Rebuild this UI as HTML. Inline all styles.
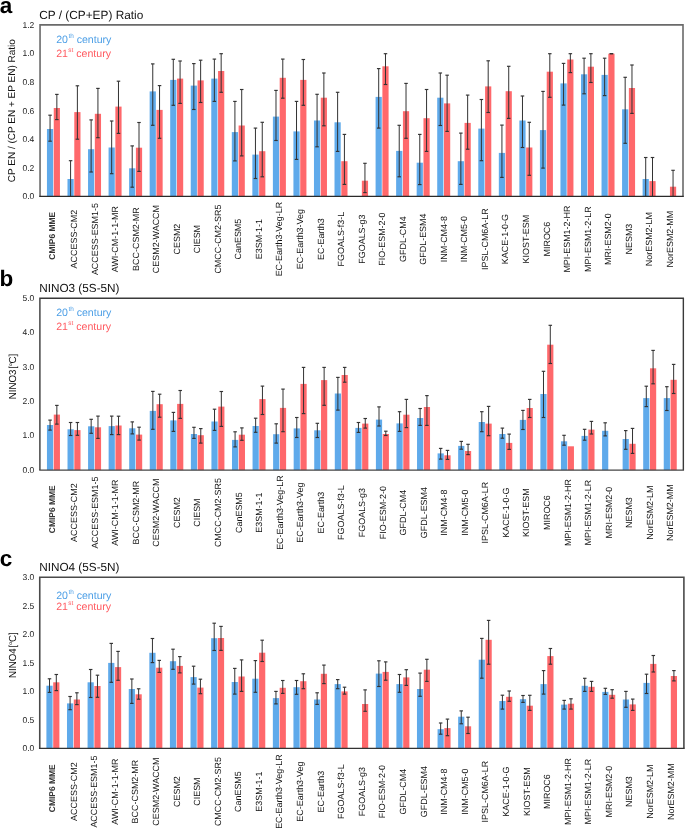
<!DOCTYPE html>
<html><head><meta charset="utf-8"><style>
html,body{margin:0;padding:0;background:#fff;}
body{width:685px;height:829px;overflow:hidden;}
svg{display:block;font-family:"Liberation Sans", sans-serif;will-change:transform;text-rendering:geometricPrecision;}
</style></head><body>
<svg width="685" height="829" viewBox="0 0 685 829">
<rect x="46.95" y="129.00" width="6.2" height="67.40" fill="#5faaeb"/>
<rect x="53.75" y="108.00" width="6.2" height="88.40" fill="#ff686b"/>
<rect x="67.49" y="179.00" width="6.2" height="17.40" fill="#5faaeb"/>
<rect x="74.29" y="112.10" width="6.2" height="84.30" fill="#ff686b"/>
<rect x="88.03" y="149.20" width="6.2" height="47.20" fill="#5faaeb"/>
<rect x="94.83" y="113.80" width="6.2" height="82.60" fill="#ff686b"/>
<rect x="108.57" y="147.50" width="6.2" height="48.90" fill="#5faaeb"/>
<rect x="115.37" y="106.60" width="6.2" height="89.80" fill="#ff686b"/>
<rect x="129.11" y="168.30" width="6.2" height="28.10" fill="#5faaeb"/>
<rect x="135.91" y="147.70" width="6.2" height="48.70" fill="#ff686b"/>
<rect x="149.65" y="91.40" width="6.2" height="105.00" fill="#5faaeb"/>
<rect x="156.45" y="109.90" width="6.2" height="86.50" fill="#ff686b"/>
<rect x="170.19" y="79.90" width="6.2" height="116.50" fill="#5faaeb"/>
<rect x="176.99" y="78.60" width="6.2" height="117.80" fill="#ff686b"/>
<rect x="190.73" y="85.60" width="6.2" height="110.80" fill="#5faaeb"/>
<rect x="197.53" y="80.40" width="6.2" height="116.00" fill="#ff686b"/>
<rect x="211.27" y="78.60" width="6.2" height="117.80" fill="#5faaeb"/>
<rect x="218.07" y="71.00" width="6.2" height="125.40" fill="#ff686b"/>
<rect x="231.81" y="132.10" width="6.2" height="64.30" fill="#5faaeb"/>
<rect x="238.61" y="125.50" width="6.2" height="70.90" fill="#ff686b"/>
<rect x="252.35" y="154.60" width="6.2" height="41.80" fill="#5faaeb"/>
<rect x="259.15" y="151.20" width="6.2" height="45.20" fill="#ff686b"/>
<rect x="272.89" y="116.60" width="6.2" height="79.80" fill="#5faaeb"/>
<rect x="279.69" y="77.80" width="6.2" height="118.60" fill="#ff686b"/>
<rect x="293.43" y="131.40" width="6.2" height="65.00" fill="#5faaeb"/>
<rect x="300.23" y="79.90" width="6.2" height="116.50" fill="#ff686b"/>
<rect x="313.97" y="120.50" width="6.2" height="75.90" fill="#5faaeb"/>
<rect x="320.77" y="97.70" width="6.2" height="98.70" fill="#ff686b"/>
<rect x="334.51" y="122.30" width="6.2" height="74.10" fill="#5faaeb"/>
<rect x="341.31" y="161.20" width="6.2" height="35.20" fill="#ff686b"/>
<rect x="361.85" y="180.70" width="6.2" height="15.70" fill="#ff686b"/>
<rect x="375.59" y="96.90" width="6.2" height="99.50" fill="#5faaeb"/>
<rect x="382.39" y="66.30" width="6.2" height="130.10" fill="#ff686b"/>
<rect x="396.13" y="150.90" width="6.2" height="45.50" fill="#5faaeb"/>
<rect x="402.93" y="111.20" width="6.2" height="85.20" fill="#ff686b"/>
<rect x="416.67" y="162.70" width="6.2" height="33.70" fill="#5faaeb"/>
<rect x="423.47" y="118.20" width="6.2" height="78.20" fill="#ff686b"/>
<rect x="437.21" y="97.70" width="6.2" height="98.70" fill="#5faaeb"/>
<rect x="444.01" y="103.40" width="6.2" height="93.00" fill="#ff686b"/>
<rect x="457.75" y="161.20" width="6.2" height="35.20" fill="#5faaeb"/>
<rect x="464.55" y="122.90" width="6.2" height="73.50" fill="#ff686b"/>
<rect x="478.29" y="128.60" width="6.2" height="67.80" fill="#5faaeb"/>
<rect x="485.09" y="86.40" width="6.2" height="110.00" fill="#ff686b"/>
<rect x="498.83" y="152.90" width="6.2" height="43.50" fill="#5faaeb"/>
<rect x="505.63" y="91.20" width="6.2" height="105.20" fill="#ff686b"/>
<rect x="519.37" y="120.50" width="6.2" height="75.90" fill="#5faaeb"/>
<rect x="526.17" y="147.50" width="6.2" height="48.90" fill="#ff686b"/>
<rect x="539.91" y="130.10" width="6.2" height="66.30" fill="#5faaeb"/>
<rect x="546.71" y="71.70" width="6.2" height="124.70" fill="#ff686b"/>
<rect x="560.45" y="83.40" width="6.2" height="113.00" fill="#5faaeb"/>
<rect x="567.25" y="59.50" width="6.2" height="136.90" fill="#ff686b"/>
<rect x="580.99" y="74.30" width="6.2" height="122.10" fill="#5faaeb"/>
<rect x="587.79" y="66.70" width="6.2" height="129.70" fill="#ff686b"/>
<rect x="601.53" y="74.90" width="6.2" height="121.50" fill="#5faaeb"/>
<rect x="608.33" y="53.70" width="6.2" height="142.70" fill="#ff686b"/>
<rect x="622.07" y="109.30" width="6.2" height="87.10" fill="#5faaeb"/>
<rect x="628.87" y="88.00" width="6.2" height="108.40" fill="#ff686b"/>
<rect x="642.61" y="179.00" width="6.2" height="17.40" fill="#5faaeb"/>
<rect x="649.41" y="181.10" width="6.2" height="15.30" fill="#ff686b"/>
<rect x="669.95" y="186.70" width="6.2" height="9.70" fill="#ff686b"/>
<line x1="50.05" y1="115.20" x2="50.05" y2="141.20" stroke="#333" stroke-width="1"/>
<rect x="48.30" y="114.62" width="3.5" height="1.15" fill="#333"/>
<rect x="48.30" y="140.62" width="3.5" height="1.15" fill="#333"/>
<line x1="56.85" y1="94.40" x2="56.85" y2="119.60" stroke="#333" stroke-width="1"/>
<rect x="55.10" y="93.83" width="3.5" height="1.15" fill="#333"/>
<rect x="55.10" y="119.02" width="3.5" height="1.15" fill="#333"/>
<line x1="70.59" y1="160.70" x2="70.59" y2="196.40" stroke="#333" stroke-width="1"/>
<rect x="68.84" y="160.12" width="3.5" height="1.15" fill="#333"/>
<line x1="77.39" y1="85.80" x2="77.39" y2="139.20" stroke="#333" stroke-width="1"/>
<rect x="75.64" y="85.22" width="3.5" height="1.15" fill="#333"/>
<rect x="75.64" y="138.62" width="3.5" height="1.15" fill="#333"/>
<line x1="91.13" y1="119.90" x2="91.13" y2="172.00" stroke="#333" stroke-width="1"/>
<rect x="89.38" y="119.33" width="3.5" height="1.15" fill="#333"/>
<rect x="89.38" y="171.43" width="3.5" height="1.15" fill="#333"/>
<line x1="97.93" y1="88.40" x2="97.93" y2="137.70" stroke="#333" stroke-width="1"/>
<rect x="96.18" y="87.83" width="3.5" height="1.15" fill="#333"/>
<rect x="96.18" y="137.12" width="3.5" height="1.15" fill="#333"/>
<line x1="111.67" y1="121.00" x2="111.67" y2="173.70" stroke="#333" stroke-width="1"/>
<rect x="109.92" y="120.42" width="3.5" height="1.15" fill="#333"/>
<rect x="109.92" y="173.12" width="3.5" height="1.15" fill="#333"/>
<line x1="118.47" y1="81.20" x2="118.47" y2="133.40" stroke="#333" stroke-width="1"/>
<rect x="116.72" y="80.62" width="3.5" height="1.15" fill="#333"/>
<rect x="116.72" y="132.83" width="3.5" height="1.15" fill="#333"/>
<line x1="132.21" y1="145.90" x2="132.21" y2="187.20" stroke="#333" stroke-width="1"/>
<rect x="130.46" y="145.33" width="3.5" height="1.15" fill="#333"/>
<rect x="130.46" y="186.62" width="3.5" height="1.15" fill="#333"/>
<line x1="139.01" y1="122.50" x2="139.01" y2="171.40" stroke="#333" stroke-width="1"/>
<rect x="137.26" y="121.92" width="3.5" height="1.15" fill="#333"/>
<rect x="137.26" y="170.83" width="3.5" height="1.15" fill="#333"/>
<line x1="152.75" y1="63.90" x2="152.75" y2="125.30" stroke="#333" stroke-width="1"/>
<rect x="151.00" y="63.32" width="3.5" height="1.15" fill="#333"/>
<rect x="151.00" y="124.72" width="3.5" height="1.15" fill="#333"/>
<line x1="159.55" y1="85.60" x2="159.55" y2="138.30" stroke="#333" stroke-width="1"/>
<rect x="157.80" y="85.02" width="3.5" height="1.15" fill="#333"/>
<rect x="157.80" y="137.73" width="3.5" height="1.15" fill="#333"/>
<line x1="173.29" y1="59.30" x2="173.29" y2="105.30" stroke="#333" stroke-width="1"/>
<rect x="171.54" y="58.72" width="3.5" height="1.15" fill="#333"/>
<rect x="171.54" y="104.72" width="3.5" height="1.15" fill="#333"/>
<line x1="180.09" y1="61.00" x2="180.09" y2="103.40" stroke="#333" stroke-width="1"/>
<rect x="178.34" y="60.42" width="3.5" height="1.15" fill="#333"/>
<rect x="178.34" y="102.83" width="3.5" height="1.15" fill="#333"/>
<line x1="193.83" y1="63.60" x2="193.83" y2="109.50" stroke="#333" stroke-width="1"/>
<rect x="192.08" y="63.02" width="3.5" height="1.15" fill="#333"/>
<rect x="192.08" y="108.92" width="3.5" height="1.15" fill="#333"/>
<line x1="200.63" y1="60.20" x2="200.63" y2="102.50" stroke="#333" stroke-width="1"/>
<rect x="198.88" y="59.62" width="3.5" height="1.15" fill="#333"/>
<rect x="198.88" y="101.92" width="3.5" height="1.15" fill="#333"/>
<line x1="214.37" y1="59.10" x2="214.37" y2="101.40" stroke="#333" stroke-width="1"/>
<rect x="212.62" y="58.52" width="3.5" height="1.15" fill="#333"/>
<rect x="212.62" y="100.83" width="3.5" height="1.15" fill="#333"/>
<line x1="221.17" y1="53.70" x2="221.17" y2="92.30" stroke="#333" stroke-width="1"/>
<rect x="219.42" y="53.12" width="3.5" height="1.15" fill="#333"/>
<rect x="219.42" y="91.72" width="3.5" height="1.15" fill="#333"/>
<line x1="234.91" y1="101.40" x2="234.91" y2="160.90" stroke="#333" stroke-width="1"/>
<rect x="233.16" y="100.83" width="3.5" height="1.15" fill="#333"/>
<rect x="233.16" y="160.33" width="3.5" height="1.15" fill="#333"/>
<line x1="241.71" y1="89.50" x2="241.71" y2="155.90" stroke="#333" stroke-width="1"/>
<rect x="239.96" y="88.92" width="3.5" height="1.15" fill="#333"/>
<rect x="239.96" y="155.33" width="3.5" height="1.15" fill="#333"/>
<line x1="255.45" y1="128.10" x2="255.45" y2="178.50" stroke="#333" stroke-width="1"/>
<rect x="253.70" y="127.52" width="3.5" height="1.15" fill="#333"/>
<rect x="253.70" y="177.93" width="3.5" height="1.15" fill="#333"/>
<line x1="262.25" y1="122.30" x2="262.25" y2="176.80" stroke="#333" stroke-width="1"/>
<rect x="260.50" y="121.72" width="3.5" height="1.15" fill="#333"/>
<rect x="260.50" y="176.23" width="3.5" height="1.15" fill="#333"/>
<line x1="275.99" y1="90.40" x2="275.99" y2="140.50" stroke="#333" stroke-width="1"/>
<rect x="274.24" y="89.83" width="3.5" height="1.15" fill="#333"/>
<rect x="274.24" y="139.93" width="3.5" height="1.15" fill="#333"/>
<line x1="282.79" y1="59.10" x2="282.79" y2="98.20" stroke="#333" stroke-width="1"/>
<rect x="281.04" y="58.52" width="3.5" height="1.15" fill="#333"/>
<rect x="281.04" y="97.62" width="3.5" height="1.15" fill="#333"/>
<line x1="296.53" y1="101.40" x2="296.53" y2="159.40" stroke="#333" stroke-width="1"/>
<rect x="294.78" y="100.83" width="3.5" height="1.15" fill="#333"/>
<rect x="294.78" y="158.83" width="3.5" height="1.15" fill="#333"/>
<line x1="303.33" y1="59.50" x2="303.33" y2="105.30" stroke="#333" stroke-width="1"/>
<rect x="301.58" y="58.92" width="3.5" height="1.15" fill="#333"/>
<rect x="301.58" y="104.72" width="3.5" height="1.15" fill="#333"/>
<line x1="317.07" y1="94.30" x2="317.07" y2="146.80" stroke="#333" stroke-width="1"/>
<rect x="315.32" y="93.72" width="3.5" height="1.15" fill="#333"/>
<rect x="315.32" y="146.23" width="3.5" height="1.15" fill="#333"/>
<line x1="323.87" y1="73.00" x2="323.87" y2="125.80" stroke="#333" stroke-width="1"/>
<rect x="322.12" y="72.42" width="3.5" height="1.15" fill="#333"/>
<rect x="322.12" y="125.22" width="3.5" height="1.15" fill="#333"/>
<line x1="337.61" y1="92.30" x2="337.61" y2="151.40" stroke="#333" stroke-width="1"/>
<rect x="335.86" y="91.72" width="3.5" height="1.15" fill="#333"/>
<rect x="335.86" y="150.83" width="3.5" height="1.15" fill="#333"/>
<line x1="344.41" y1="134.40" x2="344.41" y2="184.40" stroke="#333" stroke-width="1"/>
<rect x="342.66" y="133.83" width="3.5" height="1.15" fill="#333"/>
<rect x="342.66" y="183.83" width="3.5" height="1.15" fill="#333"/>
<line x1="364.95" y1="163.30" x2="364.95" y2="192.60" stroke="#333" stroke-width="1"/>
<rect x="363.20" y="162.73" width="3.5" height="1.15" fill="#333"/>
<rect x="363.20" y="192.03" width="3.5" height="1.15" fill="#333"/>
<line x1="378.69" y1="68.60" x2="378.69" y2="128.10" stroke="#333" stroke-width="1"/>
<rect x="376.94" y="68.02" width="3.5" height="1.15" fill="#333"/>
<rect x="376.94" y="127.52" width="3.5" height="1.15" fill="#333"/>
<line x1="385.49" y1="53.70" x2="385.49" y2="84.50" stroke="#333" stroke-width="1"/>
<rect x="383.74" y="53.12" width="3.5" height="1.15" fill="#333"/>
<rect x="383.74" y="83.92" width="3.5" height="1.15" fill="#333"/>
<line x1="399.23" y1="125.30" x2="399.23" y2="176.80" stroke="#333" stroke-width="1"/>
<rect x="397.48" y="124.72" width="3.5" height="1.15" fill="#333"/>
<rect x="397.48" y="176.23" width="3.5" height="1.15" fill="#333"/>
<line x1="406.03" y1="83.40" x2="406.03" y2="138.30" stroke="#333" stroke-width="1"/>
<rect x="404.28" y="82.83" width="3.5" height="1.15" fill="#333"/>
<rect x="404.28" y="137.73" width="3.5" height="1.15" fill="#333"/>
<line x1="419.77" y1="134.40" x2="419.77" y2="184.60" stroke="#333" stroke-width="1"/>
<rect x="418.02" y="133.83" width="3.5" height="1.15" fill="#333"/>
<rect x="418.02" y="184.03" width="3.5" height="1.15" fill="#333"/>
<line x1="426.57" y1="89.50" x2="426.57" y2="151.40" stroke="#333" stroke-width="1"/>
<rect x="424.82" y="88.92" width="3.5" height="1.15" fill="#333"/>
<rect x="424.82" y="150.83" width="3.5" height="1.15" fill="#333"/>
<line x1="440.31" y1="73.00" x2="440.31" y2="125.50" stroke="#333" stroke-width="1"/>
<rect x="438.56" y="72.42" width="3.5" height="1.15" fill="#333"/>
<rect x="438.56" y="124.92" width="3.5" height="1.15" fill="#333"/>
<line x1="447.11" y1="75.20" x2="447.11" y2="131.40" stroke="#333" stroke-width="1"/>
<rect x="445.36" y="74.62" width="3.5" height="1.15" fill="#333"/>
<rect x="445.36" y="130.83" width="3.5" height="1.15" fill="#333"/>
<line x1="460.85" y1="133.10" x2="460.85" y2="184.40" stroke="#333" stroke-width="1"/>
<rect x="459.10" y="132.53" width="3.5" height="1.15" fill="#333"/>
<rect x="459.10" y="183.83" width="3.5" height="1.15" fill="#333"/>
<line x1="467.65" y1="95.10" x2="467.65" y2="149.20" stroke="#333" stroke-width="1"/>
<rect x="465.90" y="94.52" width="3.5" height="1.15" fill="#333"/>
<rect x="465.90" y="148.62" width="3.5" height="1.15" fill="#333"/>
<line x1="481.39" y1="99.50" x2="481.39" y2="160.70" stroke="#333" stroke-width="1"/>
<rect x="479.64" y="98.92" width="3.5" height="1.15" fill="#333"/>
<rect x="479.64" y="160.12" width="3.5" height="1.15" fill="#333"/>
<line x1="488.19" y1="60.80" x2="488.19" y2="112.50" stroke="#333" stroke-width="1"/>
<rect x="486.44" y="60.22" width="3.5" height="1.15" fill="#333"/>
<rect x="486.44" y="111.92" width="3.5" height="1.15" fill="#333"/>
<line x1="501.93" y1="125.10" x2="501.93" y2="177.40" stroke="#333" stroke-width="1"/>
<rect x="500.18" y="124.52" width="3.5" height="1.15" fill="#333"/>
<rect x="500.18" y="176.83" width="3.5" height="1.15" fill="#333"/>
<line x1="508.73" y1="66.30" x2="508.73" y2="118.40" stroke="#333" stroke-width="1"/>
<rect x="506.98" y="65.72" width="3.5" height="1.15" fill="#333"/>
<rect x="506.98" y="117.83" width="3.5" height="1.15" fill="#333"/>
<line x1="522.47" y1="96.00" x2="522.47" y2="147.50" stroke="#333" stroke-width="1"/>
<rect x="520.72" y="95.42" width="3.5" height="1.15" fill="#333"/>
<rect x="520.72" y="146.93" width="3.5" height="1.15" fill="#333"/>
<line x1="529.27" y1="122.30" x2="529.27" y2="175.30" stroke="#333" stroke-width="1"/>
<rect x="527.52" y="121.72" width="3.5" height="1.15" fill="#333"/>
<rect x="527.52" y="174.73" width="3.5" height="1.15" fill="#333"/>
<line x1="543.01" y1="91.40" x2="543.01" y2="168.10" stroke="#333" stroke-width="1"/>
<rect x="541.26" y="90.83" width="3.5" height="1.15" fill="#333"/>
<rect x="541.26" y="167.53" width="3.5" height="1.15" fill="#333"/>
<line x1="549.81" y1="53.70" x2="549.81" y2="97.30" stroke="#333" stroke-width="1"/>
<rect x="548.06" y="53.12" width="3.5" height="1.15" fill="#333"/>
<rect x="548.06" y="96.72" width="3.5" height="1.15" fill="#333"/>
<line x1="563.55" y1="63.40" x2="563.55" y2="105.10" stroke="#333" stroke-width="1"/>
<rect x="561.80" y="62.82" width="3.5" height="1.15" fill="#333"/>
<rect x="561.80" y="104.52" width="3.5" height="1.15" fill="#333"/>
<line x1="570.35" y1="53.70" x2="570.35" y2="72.60" stroke="#333" stroke-width="1"/>
<rect x="568.60" y="53.12" width="3.5" height="1.15" fill="#333"/>
<rect x="568.60" y="72.02" width="3.5" height="1.15" fill="#333"/>
<line x1="584.09" y1="58.20" x2="584.09" y2="93.80" stroke="#333" stroke-width="1"/>
<rect x="582.34" y="57.62" width="3.5" height="1.15" fill="#333"/>
<rect x="582.34" y="93.22" width="3.5" height="1.15" fill="#333"/>
<line x1="590.89" y1="53.70" x2="590.89" y2="82.50" stroke="#333" stroke-width="1"/>
<rect x="589.14" y="53.12" width="3.5" height="1.15" fill="#333"/>
<rect x="589.14" y="81.92" width="3.5" height="1.15" fill="#333"/>
<line x1="604.63" y1="58.20" x2="604.63" y2="95.60" stroke="#333" stroke-width="1"/>
<rect x="602.88" y="57.62" width="3.5" height="1.15" fill="#333"/>
<rect x="602.88" y="95.02" width="3.5" height="1.15" fill="#333"/>
<line x1="611.43" y1="53.70" x2="611.43" y2="53.70" stroke="#333" stroke-width="1"/>
<rect x="609.68" y="53.12" width="3.5" height="1.15" fill="#333"/>
<rect x="609.68" y="53.12" width="3.5" height="1.15" fill="#333"/>
<line x1="625.17" y1="77.30" x2="625.17" y2="143.30" stroke="#333" stroke-width="1"/>
<rect x="623.42" y="76.72" width="3.5" height="1.15" fill="#333"/>
<rect x="623.42" y="142.73" width="3.5" height="1.15" fill="#333"/>
<line x1="631.97" y1="65.00" x2="631.97" y2="113.40" stroke="#333" stroke-width="1"/>
<rect x="630.22" y="64.42" width="3.5" height="1.15" fill="#333"/>
<rect x="630.22" y="112.83" width="3.5" height="1.15" fill="#333"/>
<line x1="645.71" y1="157.50" x2="645.71" y2="196.40" stroke="#333" stroke-width="1"/>
<rect x="643.96" y="156.93" width="3.5" height="1.15" fill="#333"/>
<line x1="652.51" y1="157.50" x2="652.51" y2="196.40" stroke="#333" stroke-width="1"/>
<rect x="650.76" y="156.93" width="3.5" height="1.15" fill="#333"/>
<line x1="673.05" y1="170.30" x2="673.05" y2="196.40" stroke="#333" stroke-width="1"/>
<rect x="671.30" y="169.73" width="3.5" height="1.15" fill="#333"/>
<path d="M40.05 196.4 V24.9 H683.0 V196.4" fill="none" stroke="#6a6a6a" stroke-width="1.6"/><line x1="39.25" y1="196.4" x2="683.8" y2="196.4" stroke="#2a2a2a" stroke-width="1.1"/>
<g font-size="8.5" fill="#222"><text x="34.3" y="199.30" text-anchor="end">0.0</text>
<text x="34.3" y="170.73" text-anchor="end">0.2</text>
<text x="34.3" y="142.16" text-anchor="end">0.4</text>
<text x="34.3" y="113.59" text-anchor="end">0.6</text>
<text x="34.3" y="85.02" text-anchor="end">0.8</text>
<text x="34.3" y="56.45" text-anchor="end">1.0</text>
<text x="34.3" y="27.88" text-anchor="end">1.2</text></g>
<g font-size="8.95" fill="#111"><text transform="translate(55.20,235.80) rotate(-90)" text-anchor="middle" font-weight="bold" font-size="8.45" fill="#333">CMIP6 MME</text>
<text transform="translate(77.09,239.10) rotate(-90)" text-anchor="middle">ACCESS-CM2</text>
<text transform="translate(97.63,239.10) rotate(-90)" text-anchor="middle">ACCESS-ESM1-5</text>
<text transform="translate(118.17,239.10) rotate(-90)" text-anchor="middle">AWI-CM-1-1-MR</text>
<text transform="translate(138.71,239.10) rotate(-90)" text-anchor="middle">BCC-CSM2-MR</text>
<text transform="translate(159.25,239.10) rotate(-90)" text-anchor="middle">CESM2-WACCM</text>
<text transform="translate(179.79,239.10) rotate(-90)" text-anchor="middle">CESM2</text>
<text transform="translate(200.33,239.10) rotate(-90)" text-anchor="middle">CIESM</text>
<text transform="translate(220.87,239.10) rotate(-90)" text-anchor="middle">CMCC-CM2-SR5</text>
<text transform="translate(241.41,239.10) rotate(-90)" text-anchor="middle">CanESM5</text>
<text transform="translate(261.95,239.10) rotate(-90)" text-anchor="middle">E3SM-1-1</text>
<text transform="translate(282.49,239.10) rotate(-90)" text-anchor="middle">EC-Earth3-Veg-LR</text>
<text transform="translate(303.03,239.10) rotate(-90)" text-anchor="middle">EC-Earth3-Veg</text>
<text transform="translate(323.57,239.10) rotate(-90)" text-anchor="middle">EC-Earth3</text>
<text transform="translate(344.11,239.10) rotate(-90)" text-anchor="middle">FGOALS-f3-L</text>
<text transform="translate(364.65,239.10) rotate(-90)" text-anchor="middle">FGOALS-g3</text>
<text transform="translate(385.19,239.10) rotate(-90)" text-anchor="middle">FIO-ESM-2-0</text>
<text transform="translate(405.73,239.10) rotate(-90)" text-anchor="middle">GFDL-CM4</text>
<text transform="translate(426.27,239.10) rotate(-90)" text-anchor="middle">GFDL-ESM4</text>
<text transform="translate(446.81,239.10) rotate(-90)" text-anchor="middle">INM-CM4-8</text>
<text transform="translate(467.35,239.10) rotate(-90)" text-anchor="middle">INM-CM5-0</text>
<text transform="translate(487.89,239.10) rotate(-90)" text-anchor="middle">IPSL-CM6A-LR</text>
<text transform="translate(508.43,239.10) rotate(-90)" text-anchor="middle">KACE-1-0-G</text>
<text transform="translate(528.97,239.10) rotate(-90)" text-anchor="middle">KIOST-ESM</text>
<text transform="translate(549.51,239.10) rotate(-90)" text-anchor="middle">MIROC6</text>
<text transform="translate(570.05,239.10) rotate(-90)" text-anchor="middle">MPI-ESM1-2-HR</text>
<text transform="translate(590.59,239.10) rotate(-90)" text-anchor="middle">MPI-ESM1-2-LR</text>
<text transform="translate(611.13,239.10) rotate(-90)" text-anchor="middle">MRI-ESM2-0</text>
<text transform="translate(631.67,239.10) rotate(-90)" text-anchor="middle">NESM3</text>
<text transform="translate(652.21,239.10) rotate(-90)" text-anchor="middle">NorESM2-LM</text>
<text transform="translate(672.75,239.10) rotate(-90)" text-anchor="middle">NorESM2-MM</text></g>
<text x="56.2" y="43.4" fill="#4d9fe6" font-size="10.6">20<tspan font-size="6.4" dx="0.4" dy="-5.0">th</tspan><tspan dy="5.0"> century</tspan></text><text x="56.2" y="57.4" fill="#ff5a60" font-size="10.6">21<tspan font-size="6.4" dx="0.3" dy="-5.0">st</tspan><tspan dy="5.0"> century</tspan></text>
<text x="-0.3" y="13.1" font-size="22.5" font-weight="bold" fill="#000">a</text>
<text x="39.2" y="19" font-size="11.85" fill="#111">CP / (CP+EP) Ratio</text>
<text transform="translate(15,110.7) rotate(-90)" text-anchor="middle" font-size="10" fill="#111">CP EN / (CP EN + EP EN) Ratio</text>
<rect x="46.95" y="425.00" width="6.2" height="45.10" fill="#5faaeb"/>
<rect x="53.75" y="414.60" width="6.2" height="55.50" fill="#ff686b"/>
<rect x="67.51" y="429.30" width="6.2" height="40.80" fill="#5faaeb"/>
<rect x="74.31" y="430.10" width="6.2" height="40.00" fill="#ff686b"/>
<rect x="88.07" y="426.30" width="6.2" height="43.80" fill="#5faaeb"/>
<rect x="94.87" y="427.30" width="6.2" height="42.80" fill="#ff686b"/>
<rect x="108.63" y="426.10" width="6.2" height="44.00" fill="#5faaeb"/>
<rect x="115.43" y="425.50" width="6.2" height="44.60" fill="#ff686b"/>
<rect x="129.19" y="428.30" width="6.2" height="41.80" fill="#5faaeb"/>
<rect x="135.99" y="434.60" width="6.2" height="35.50" fill="#ff686b"/>
<rect x="149.75" y="410.90" width="6.2" height="59.20" fill="#5faaeb"/>
<rect x="156.55" y="404.20" width="6.2" height="65.90" fill="#ff686b"/>
<rect x="170.31" y="420.40" width="6.2" height="49.70" fill="#5faaeb"/>
<rect x="177.11" y="403.90" width="6.2" height="66.20" fill="#ff686b"/>
<rect x="190.87" y="434.00" width="6.2" height="36.10" fill="#5faaeb"/>
<rect x="197.67" y="435.20" width="6.2" height="34.90" fill="#ff686b"/>
<rect x="211.43" y="421.50" width="6.2" height="48.60" fill="#5faaeb"/>
<rect x="218.23" y="406.60" width="6.2" height="63.50" fill="#ff686b"/>
<rect x="231.99" y="439.90" width="6.2" height="30.20" fill="#5faaeb"/>
<rect x="238.79" y="434.70" width="6.2" height="35.40" fill="#ff686b"/>
<rect x="252.55" y="426.00" width="6.2" height="44.10" fill="#5faaeb"/>
<rect x="259.35" y="399.10" width="6.2" height="71.00" fill="#ff686b"/>
<rect x="273.11" y="434.20" width="6.2" height="35.90" fill="#5faaeb"/>
<rect x="279.91" y="407.90" width="6.2" height="62.20" fill="#ff686b"/>
<rect x="293.67" y="428.40" width="6.2" height="41.70" fill="#5faaeb"/>
<rect x="300.47" y="383.90" width="6.2" height="86.20" fill="#ff686b"/>
<rect x="314.23" y="430.30" width="6.2" height="39.80" fill="#5faaeb"/>
<rect x="321.03" y="380.10" width="6.2" height="90.00" fill="#ff686b"/>
<rect x="334.79" y="393.50" width="6.2" height="76.60" fill="#5faaeb"/>
<rect x="341.59" y="375.00" width="6.2" height="95.10" fill="#ff686b"/>
<rect x="355.35" y="427.90" width="6.2" height="42.20" fill="#5faaeb"/>
<rect x="362.15" y="423.60" width="6.2" height="46.50" fill="#ff686b"/>
<rect x="375.91" y="419.60" width="6.2" height="50.50" fill="#5faaeb"/>
<rect x="382.71" y="434.00" width="6.2" height="36.10" fill="#ff686b"/>
<rect x="396.47" y="423.40" width="6.2" height="46.70" fill="#5faaeb"/>
<rect x="403.27" y="414.70" width="6.2" height="55.40" fill="#ff686b"/>
<rect x="417.03" y="418.00" width="6.2" height="52.10" fill="#5faaeb"/>
<rect x="423.83" y="407.00" width="6.2" height="63.10" fill="#ff686b"/>
<rect x="437.59" y="453.40" width="6.2" height="16.70" fill="#5faaeb"/>
<rect x="444.39" y="455.30" width="6.2" height="14.80" fill="#ff686b"/>
<rect x="458.15" y="445.90" width="6.2" height="24.20" fill="#5faaeb"/>
<rect x="464.95" y="451.00" width="6.2" height="19.10" fill="#ff686b"/>
<rect x="478.71" y="422.00" width="6.2" height="48.10" fill="#5faaeb"/>
<rect x="485.51" y="423.60" width="6.2" height="46.50" fill="#ff686b"/>
<rect x="499.27" y="434.00" width="6.2" height="36.10" fill="#5faaeb"/>
<rect x="506.07" y="442.90" width="6.2" height="27.20" fill="#ff686b"/>
<rect x="519.83" y="419.90" width="6.2" height="50.20" fill="#5faaeb"/>
<rect x="526.63" y="408.00" width="6.2" height="62.10" fill="#ff686b"/>
<rect x="540.39" y="394.00" width="6.2" height="76.10" fill="#5faaeb"/>
<rect x="547.19" y="344.70" width="6.2" height="125.40" fill="#ff686b"/>
<rect x="560.95" y="441.30" width="6.2" height="28.80" fill="#5faaeb"/>
<rect x="567.75" y="446.30" width="6.2" height="23.80" fill="#ff686b"/>
<rect x="581.51" y="435.90" width="6.2" height="34.20" fill="#5faaeb"/>
<rect x="588.31" y="429.60" width="6.2" height="40.50" fill="#ff686b"/>
<rect x="602.07" y="430.80" width="6.2" height="39.30" fill="#5faaeb"/>
<rect x="622.63" y="439.00" width="6.2" height="31.10" fill="#5faaeb"/>
<rect x="629.43" y="443.80" width="6.2" height="26.30" fill="#ff686b"/>
<rect x="643.19" y="398.10" width="6.2" height="72.00" fill="#5faaeb"/>
<rect x="649.99" y="368.30" width="6.2" height="101.80" fill="#ff686b"/>
<rect x="663.75" y="398.10" width="6.2" height="72.00" fill="#5faaeb"/>
<rect x="670.55" y="379.80" width="6.2" height="90.30" fill="#ff686b"/>
<line x1="50.05" y1="420.10" x2="50.05" y2="430.10" stroke="#333" stroke-width="1"/>
<rect x="48.30" y="419.53" width="3.5" height="1.15" fill="#333"/>
<rect x="48.30" y="429.53" width="3.5" height="1.15" fill="#333"/>
<line x1="56.85" y1="405.40" x2="56.85" y2="424.10" stroke="#333" stroke-width="1"/>
<rect x="55.10" y="404.82" width="3.5" height="1.15" fill="#333"/>
<rect x="55.10" y="423.53" width="3.5" height="1.15" fill="#333"/>
<line x1="70.61" y1="422.50" x2="70.61" y2="435.50" stroke="#333" stroke-width="1"/>
<rect x="68.86" y="421.93" width="3.5" height="1.15" fill="#333"/>
<rect x="68.86" y="434.93" width="3.5" height="1.15" fill="#333"/>
<line x1="77.41" y1="422.50" x2="77.41" y2="435.30" stroke="#333" stroke-width="1"/>
<rect x="75.66" y="421.93" width="3.5" height="1.15" fill="#333"/>
<rect x="75.66" y="434.73" width="3.5" height="1.15" fill="#333"/>
<line x1="91.17" y1="419.30" x2="91.17" y2="433.30" stroke="#333" stroke-width="1"/>
<rect x="89.42" y="418.73" width="3.5" height="1.15" fill="#333"/>
<rect x="89.42" y="432.73" width="3.5" height="1.15" fill="#333"/>
<line x1="97.97" y1="416.10" x2="97.97" y2="438.40" stroke="#333" stroke-width="1"/>
<rect x="96.22" y="415.53" width="3.5" height="1.15" fill="#333"/>
<rect x="96.22" y="437.82" width="3.5" height="1.15" fill="#333"/>
<line x1="111.73" y1="416.10" x2="111.73" y2="434.60" stroke="#333" stroke-width="1"/>
<rect x="109.98" y="415.53" width="3.5" height="1.15" fill="#333"/>
<rect x="109.98" y="434.03" width="3.5" height="1.15" fill="#333"/>
<line x1="118.53" y1="416.20" x2="118.53" y2="434.60" stroke="#333" stroke-width="1"/>
<rect x="116.78" y="415.62" width="3.5" height="1.15" fill="#333"/>
<rect x="116.78" y="434.03" width="3.5" height="1.15" fill="#333"/>
<line x1="132.29" y1="421.90" x2="132.29" y2="433.90" stroke="#333" stroke-width="1"/>
<rect x="130.54" y="421.32" width="3.5" height="1.15" fill="#333"/>
<rect x="130.54" y="433.32" width="3.5" height="1.15" fill="#333"/>
<line x1="139.09" y1="427.20" x2="139.09" y2="440.10" stroke="#333" stroke-width="1"/>
<rect x="137.34" y="426.62" width="3.5" height="1.15" fill="#333"/>
<rect x="137.34" y="439.53" width="3.5" height="1.15" fill="#333"/>
<line x1="152.85" y1="391.40" x2="152.85" y2="429.30" stroke="#333" stroke-width="1"/>
<rect x="151.10" y="390.82" width="3.5" height="1.15" fill="#333"/>
<rect x="151.10" y="428.73" width="3.5" height="1.15" fill="#333"/>
<line x1="159.65" y1="394.20" x2="159.65" y2="417.20" stroke="#333" stroke-width="1"/>
<rect x="157.90" y="393.62" width="3.5" height="1.15" fill="#333"/>
<rect x="157.90" y="416.62" width="3.5" height="1.15" fill="#333"/>
<line x1="173.41" y1="412.40" x2="173.41" y2="431.40" stroke="#333" stroke-width="1"/>
<rect x="171.66" y="411.82" width="3.5" height="1.15" fill="#333"/>
<rect x="171.66" y="430.82" width="3.5" height="1.15" fill="#333"/>
<line x1="180.21" y1="390.50" x2="180.21" y2="418.40" stroke="#333" stroke-width="1"/>
<rect x="178.46" y="389.93" width="3.5" height="1.15" fill="#333"/>
<rect x="178.46" y="417.82" width="3.5" height="1.15" fill="#333"/>
<line x1="193.97" y1="427.30" x2="193.97" y2="438.40" stroke="#333" stroke-width="1"/>
<rect x="192.22" y="426.73" width="3.5" height="1.15" fill="#333"/>
<rect x="192.22" y="437.82" width="3.5" height="1.15" fill="#333"/>
<line x1="200.77" y1="428.60" x2="200.77" y2="443.10" stroke="#333" stroke-width="1"/>
<rect x="199.02" y="428.03" width="3.5" height="1.15" fill="#333"/>
<rect x="199.02" y="442.53" width="3.5" height="1.15" fill="#333"/>
<line x1="214.53" y1="409.20" x2="214.53" y2="430.40" stroke="#333" stroke-width="1"/>
<rect x="212.78" y="408.62" width="3.5" height="1.15" fill="#333"/>
<rect x="212.78" y="429.82" width="3.5" height="1.15" fill="#333"/>
<line x1="221.33" y1="391.50" x2="221.33" y2="426.40" stroke="#333" stroke-width="1"/>
<rect x="219.58" y="390.93" width="3.5" height="1.15" fill="#333"/>
<rect x="219.58" y="425.82" width="3.5" height="1.15" fill="#333"/>
<line x1="235.09" y1="431.80" x2="235.09" y2="446.90" stroke="#333" stroke-width="1"/>
<rect x="233.34" y="431.23" width="3.5" height="1.15" fill="#333"/>
<rect x="233.34" y="446.32" width="3.5" height="1.15" fill="#333"/>
<line x1="241.89" y1="427.90" x2="241.89" y2="440.30" stroke="#333" stroke-width="1"/>
<rect x="240.14" y="427.32" width="3.5" height="1.15" fill="#333"/>
<rect x="240.14" y="439.73" width="3.5" height="1.15" fill="#333"/>
<line x1="255.65" y1="418.20" x2="255.65" y2="432.30" stroke="#333" stroke-width="1"/>
<rect x="253.90" y="417.62" width="3.5" height="1.15" fill="#333"/>
<rect x="253.90" y="431.73" width="3.5" height="1.15" fill="#333"/>
<line x1="262.45" y1="386.10" x2="262.45" y2="414.50" stroke="#333" stroke-width="1"/>
<rect x="260.70" y="385.53" width="3.5" height="1.15" fill="#333"/>
<rect x="260.70" y="413.93" width="3.5" height="1.15" fill="#333"/>
<line x1="276.21" y1="423.80" x2="276.21" y2="443.10" stroke="#333" stroke-width="1"/>
<rect x="274.46" y="423.23" width="3.5" height="1.15" fill="#333"/>
<rect x="274.46" y="442.53" width="3.5" height="1.15" fill="#333"/>
<line x1="283.01" y1="389.10" x2="283.01" y2="431.70" stroke="#333" stroke-width="1"/>
<rect x="281.26" y="388.53" width="3.5" height="1.15" fill="#333"/>
<rect x="281.26" y="431.12" width="3.5" height="1.15" fill="#333"/>
<line x1="296.77" y1="417.50" x2="296.77" y2="437.50" stroke="#333" stroke-width="1"/>
<rect x="295.02" y="416.93" width="3.5" height="1.15" fill="#333"/>
<rect x="295.02" y="436.93" width="3.5" height="1.15" fill="#333"/>
<line x1="303.57" y1="367.40" x2="303.57" y2="413.60" stroke="#333" stroke-width="1"/>
<rect x="301.82" y="366.82" width="3.5" height="1.15" fill="#333"/>
<rect x="301.82" y="413.03" width="3.5" height="1.15" fill="#333"/>
<line x1="317.33" y1="423.30" x2="317.33" y2="437.50" stroke="#333" stroke-width="1"/>
<rect x="315.58" y="422.73" width="3.5" height="1.15" fill="#333"/>
<rect x="315.58" y="436.93" width="3.5" height="1.15" fill="#333"/>
<line x1="324.13" y1="367.40" x2="324.13" y2="405.30" stroke="#333" stroke-width="1"/>
<rect x="322.38" y="366.82" width="3.5" height="1.15" fill="#333"/>
<rect x="322.38" y="404.73" width="3.5" height="1.15" fill="#333"/>
<line x1="337.89" y1="377.40" x2="337.89" y2="410.10" stroke="#333" stroke-width="1"/>
<rect x="336.14" y="376.82" width="3.5" height="1.15" fill="#333"/>
<rect x="336.14" y="409.53" width="3.5" height="1.15" fill="#333"/>
<line x1="344.69" y1="367.40" x2="344.69" y2="382.20" stroke="#333" stroke-width="1"/>
<rect x="342.94" y="366.82" width="3.5" height="1.15" fill="#333"/>
<rect x="342.94" y="381.62" width="3.5" height="1.15" fill="#333"/>
<line x1="358.45" y1="422.50" x2="358.45" y2="432.40" stroke="#333" stroke-width="1"/>
<rect x="356.70" y="421.93" width="3.5" height="1.15" fill="#333"/>
<rect x="356.70" y="431.82" width="3.5" height="1.15" fill="#333"/>
<line x1="365.25" y1="418.50" x2="365.25" y2="428.10" stroke="#333" stroke-width="1"/>
<rect x="363.50" y="417.93" width="3.5" height="1.15" fill="#333"/>
<rect x="363.50" y="427.53" width="3.5" height="1.15" fill="#333"/>
<line x1="379.01" y1="406.90" x2="379.01" y2="426.00" stroke="#333" stroke-width="1"/>
<rect x="377.26" y="406.32" width="3.5" height="1.15" fill="#333"/>
<rect x="377.26" y="425.43" width="3.5" height="1.15" fill="#333"/>
<line x1="385.81" y1="431.20" x2="385.81" y2="435.50" stroke="#333" stroke-width="1"/>
<rect x="384.06" y="430.62" width="3.5" height="1.15" fill="#333"/>
<rect x="384.06" y="434.93" width="3.5" height="1.15" fill="#333"/>
<line x1="399.57" y1="411.70" x2="399.57" y2="431.40" stroke="#333" stroke-width="1"/>
<rect x="397.82" y="411.12" width="3.5" height="1.15" fill="#333"/>
<rect x="397.82" y="430.82" width="3.5" height="1.15" fill="#333"/>
<line x1="406.37" y1="399.40" x2="406.37" y2="427.60" stroke="#333" stroke-width="1"/>
<rect x="404.62" y="398.82" width="3.5" height="1.15" fill="#333"/>
<rect x="404.62" y="427.03" width="3.5" height="1.15" fill="#333"/>
<line x1="420.13" y1="408.50" x2="420.13" y2="425.40" stroke="#333" stroke-width="1"/>
<rect x="418.38" y="407.93" width="3.5" height="1.15" fill="#333"/>
<rect x="418.38" y="424.82" width="3.5" height="1.15" fill="#333"/>
<line x1="426.93" y1="395.60" x2="426.93" y2="425.40" stroke="#333" stroke-width="1"/>
<rect x="425.18" y="395.03" width="3.5" height="1.15" fill="#333"/>
<rect x="425.18" y="424.82" width="3.5" height="1.15" fill="#333"/>
<line x1="440.69" y1="448.40" x2="440.69" y2="459.10" stroke="#333" stroke-width="1"/>
<rect x="438.94" y="447.82" width="3.5" height="1.15" fill="#333"/>
<rect x="438.94" y="458.53" width="3.5" height="1.15" fill="#333"/>
<line x1="447.49" y1="450.40" x2="447.49" y2="459.40" stroke="#333" stroke-width="1"/>
<rect x="445.74" y="449.82" width="3.5" height="1.15" fill="#333"/>
<rect x="445.74" y="458.82" width="3.5" height="1.15" fill="#333"/>
<line x1="461.25" y1="441.40" x2="461.25" y2="449.20" stroke="#333" stroke-width="1"/>
<rect x="459.50" y="440.82" width="3.5" height="1.15" fill="#333"/>
<rect x="459.50" y="448.62" width="3.5" height="1.15" fill="#333"/>
<line x1="468.05" y1="444.30" x2="468.05" y2="454.60" stroke="#333" stroke-width="1"/>
<rect x="466.30" y="443.73" width="3.5" height="1.15" fill="#333"/>
<rect x="466.30" y="454.03" width="3.5" height="1.15" fill="#333"/>
<line x1="481.81" y1="411.70" x2="481.81" y2="431.70" stroke="#333" stroke-width="1"/>
<rect x="480.06" y="411.12" width="3.5" height="1.15" fill="#333"/>
<rect x="480.06" y="431.12" width="3.5" height="1.15" fill="#333"/>
<line x1="488.61" y1="406.40" x2="488.61" y2="435.70" stroke="#333" stroke-width="1"/>
<rect x="486.86" y="405.82" width="3.5" height="1.15" fill="#333"/>
<rect x="486.86" y="435.12" width="3.5" height="1.15" fill="#333"/>
<line x1="502.37" y1="428.10" x2="502.37" y2="438.20" stroke="#333" stroke-width="1"/>
<rect x="500.62" y="427.53" width="3.5" height="1.15" fill="#333"/>
<rect x="500.62" y="437.62" width="3.5" height="1.15" fill="#333"/>
<line x1="509.17" y1="434.10" x2="509.17" y2="449.40" stroke="#333" stroke-width="1"/>
<rect x="507.42" y="433.53" width="3.5" height="1.15" fill="#333"/>
<rect x="507.42" y="448.82" width="3.5" height="1.15" fill="#333"/>
<line x1="522.93" y1="410.40" x2="522.93" y2="429.50" stroke="#333" stroke-width="1"/>
<rect x="521.18" y="409.82" width="3.5" height="1.15" fill="#333"/>
<rect x="521.18" y="428.93" width="3.5" height="1.15" fill="#333"/>
<line x1="529.73" y1="399.40" x2="529.73" y2="417.50" stroke="#333" stroke-width="1"/>
<rect x="527.98" y="398.82" width="3.5" height="1.15" fill="#333"/>
<rect x="527.98" y="416.93" width="3.5" height="1.15" fill="#333"/>
<line x1="543.49" y1="371.30" x2="543.49" y2="417.50" stroke="#333" stroke-width="1"/>
<rect x="541.74" y="370.73" width="3.5" height="1.15" fill="#333"/>
<rect x="541.74" y="416.93" width="3.5" height="1.15" fill="#333"/>
<line x1="550.29" y1="325.30" x2="550.29" y2="363.50" stroke="#333" stroke-width="1"/>
<rect x="548.54" y="324.73" width="3.5" height="1.15" fill="#333"/>
<rect x="548.54" y="362.93" width="3.5" height="1.15" fill="#333"/>
<line x1="564.05" y1="435.30" x2="564.05" y2="445.20" stroke="#333" stroke-width="1"/>
<rect x="562.30" y="434.73" width="3.5" height="1.15" fill="#333"/>
<rect x="562.30" y="444.62" width="3.5" height="1.15" fill="#333"/>
<line x1="584.61" y1="429.30" x2="584.61" y2="440.20" stroke="#333" stroke-width="1"/>
<rect x="582.86" y="428.73" width="3.5" height="1.15" fill="#333"/>
<rect x="582.86" y="439.62" width="3.5" height="1.15" fill="#333"/>
<line x1="591.41" y1="421.40" x2="591.41" y2="434.00" stroke="#333" stroke-width="1"/>
<rect x="589.66" y="420.82" width="3.5" height="1.15" fill="#333"/>
<rect x="589.66" y="433.43" width="3.5" height="1.15" fill="#333"/>
<line x1="605.17" y1="422.80" x2="605.17" y2="435.90" stroke="#333" stroke-width="1"/>
<rect x="603.42" y="422.23" width="3.5" height="1.15" fill="#333"/>
<rect x="603.42" y="435.32" width="3.5" height="1.15" fill="#333"/>
<line x1="625.73" y1="430.60" x2="625.73" y2="449.30" stroke="#333" stroke-width="1"/>
<rect x="623.98" y="430.03" width="3.5" height="1.15" fill="#333"/>
<rect x="623.98" y="448.73" width="3.5" height="1.15" fill="#333"/>
<line x1="632.53" y1="428.40" x2="632.53" y2="453.40" stroke="#333" stroke-width="1"/>
<rect x="630.78" y="427.82" width="3.5" height="1.15" fill="#333"/>
<rect x="630.78" y="452.82" width="3.5" height="1.15" fill="#333"/>
<line x1="646.29" y1="386.20" x2="646.29" y2="406.60" stroke="#333" stroke-width="1"/>
<rect x="644.54" y="385.62" width="3.5" height="1.15" fill="#333"/>
<rect x="644.54" y="406.03" width="3.5" height="1.15" fill="#333"/>
<line x1="653.09" y1="350.40" x2="653.09" y2="383.80" stroke="#333" stroke-width="1"/>
<rect x="651.34" y="349.82" width="3.5" height="1.15" fill="#333"/>
<rect x="651.34" y="383.23" width="3.5" height="1.15" fill="#333"/>
<line x1="666.85" y1="386.70" x2="666.85" y2="410.50" stroke="#333" stroke-width="1"/>
<rect x="665.10" y="386.12" width="3.5" height="1.15" fill="#333"/>
<rect x="665.10" y="409.93" width="3.5" height="1.15" fill="#333"/>
<line x1="673.65" y1="364.40" x2="673.65" y2="393.50" stroke="#333" stroke-width="1"/>
<rect x="671.90" y="363.82" width="3.5" height="1.15" fill="#333"/>
<rect x="671.90" y="392.93" width="3.5" height="1.15" fill="#333"/>
<path d="M39.9 470.1 V298.2 H683.35 V470.1" fill="none" stroke="#3a3a3a" stroke-width="1.4"/><line x1="39.199999999999996" y1="470.1" x2="684.0500000000001" y2="470.1" stroke="#444" stroke-width="1.4"/>
<g font-size="8.5" fill="#222"><text x="34.3" y="472.60" text-anchor="end">0.0</text>
<text x="34.3" y="438.30" text-anchor="end">1.0</text>
<text x="34.3" y="404.00" text-anchor="end">2.0</text>
<text x="34.3" y="369.70" text-anchor="end">3.0</text>
<text x="34.3" y="335.40" text-anchor="end">4.0</text>
<text x="34.3" y="301.10" text-anchor="end">5.0</text></g>
<g font-size="8.95" fill="#111"><text transform="translate(55.20,509.30) rotate(-90)" text-anchor="middle" font-weight="bold" font-size="8.45" fill="#333">CMIP6 MME</text>
<text transform="translate(77.11,512.60) rotate(-90)" text-anchor="middle">ACCESS-CM2</text>
<text transform="translate(97.67,512.60) rotate(-90)" text-anchor="middle">ACCESS-ESM1-5</text>
<text transform="translate(118.23,512.60) rotate(-90)" text-anchor="middle">AWI-CM-1-1-MR</text>
<text transform="translate(138.79,512.60) rotate(-90)" text-anchor="middle">BCC-CSM2-MR</text>
<text transform="translate(159.35,512.60) rotate(-90)" text-anchor="middle">CESM2-WACCM</text>
<text transform="translate(179.91,512.60) rotate(-90)" text-anchor="middle">CESM2</text>
<text transform="translate(200.47,512.60) rotate(-90)" text-anchor="middle">CIESM</text>
<text transform="translate(221.03,512.60) rotate(-90)" text-anchor="middle">CMCC-CM2-SR5</text>
<text transform="translate(241.59,512.60) rotate(-90)" text-anchor="middle">CanESM5</text>
<text transform="translate(262.15,512.60) rotate(-90)" text-anchor="middle">E3SM-1-1</text>
<text transform="translate(282.71,512.60) rotate(-90)" text-anchor="middle">EC-Earth3-Veg-LR</text>
<text transform="translate(303.27,512.60) rotate(-90)" text-anchor="middle">EC-Earth3-Veg</text>
<text transform="translate(323.83,512.60) rotate(-90)" text-anchor="middle">EC-Earth3</text>
<text transform="translate(344.39,512.60) rotate(-90)" text-anchor="middle">FGOALS-f3-L</text>
<text transform="translate(364.95,512.60) rotate(-90)" text-anchor="middle">FGOALS-g3</text>
<text transform="translate(385.51,512.60) rotate(-90)" text-anchor="middle">FIO-ESM-2-0</text>
<text transform="translate(406.07,512.60) rotate(-90)" text-anchor="middle">GFDL-CM4</text>
<text transform="translate(426.63,512.60) rotate(-90)" text-anchor="middle">GFDL-ESM4</text>
<text transform="translate(447.19,512.60) rotate(-90)" text-anchor="middle">INM-CM4-8</text>
<text transform="translate(467.75,512.60) rotate(-90)" text-anchor="middle">INM-CM5-0</text>
<text transform="translate(488.31,512.60) rotate(-90)" text-anchor="middle">IPSL-CM6A-LR</text>
<text transform="translate(508.87,512.60) rotate(-90)" text-anchor="middle">KACE-1-0-G</text>
<text transform="translate(529.43,512.60) rotate(-90)" text-anchor="middle">KIOST-ESM</text>
<text transform="translate(549.99,512.60) rotate(-90)" text-anchor="middle">MIROC6</text>
<text transform="translate(570.55,512.60) rotate(-90)" text-anchor="middle">MPI-ESM1-2-HR</text>
<text transform="translate(591.11,512.60) rotate(-90)" text-anchor="middle">MPI-ESM1-2-LR</text>
<text transform="translate(611.67,512.60) rotate(-90)" text-anchor="middle">MRI-ESM2-0</text>
<text transform="translate(632.23,512.60) rotate(-90)" text-anchor="middle">NESM3</text>
<text transform="translate(652.79,512.60) rotate(-90)" text-anchor="middle">NorESM2-LM</text>
<text transform="translate(673.35,512.60) rotate(-90)" text-anchor="middle">NorESM2-MM</text></g>
<text x="56.2" y="316.0" fill="#4d9fe6" font-size="10.6">20<tspan font-size="6.4" dx="0.4" dy="-5.0">th</tspan><tspan dy="5.0"> century</tspan></text><text x="56.2" y="329.6" fill="#ff5a60" font-size="10.6">21<tspan font-size="6.4" dx="0.3" dy="-5.0">st</tspan><tspan dy="5.0"> century</tspan></text>
<text x="-0.6" y="286.3" font-size="22.5" font-weight="bold" fill="#000">b</text>
<text x="39.2" y="291.8" font-size="11.75" fill="#111">NINO3 (5S-5N)</text>
<text transform="translate(15.8,376.5) rotate(-90)" text-anchor="middle" font-size="10.2" fill="#111" textLength="45.6" lengthAdjust="spacingAndGlyphs">NINO3<tspan dx="1.0">[</tspan><tspan font-size="5" dy="-3.7">o</tspan><tspan dy="3.7">C]</tspan></text>
<rect x="46.40" y="685.70" width="6.2" height="62.65" fill="#5faaeb"/>
<rect x="53.20" y="682.30" width="6.2" height="66.05" fill="#ff686b"/>
<rect x="66.99" y="703.40" width="6.2" height="44.95" fill="#5faaeb"/>
<rect x="73.79" y="699.50" width="6.2" height="48.85" fill="#ff686b"/>
<rect x="87.57" y="682.30" width="6.2" height="66.05" fill="#5faaeb"/>
<rect x="94.37" y="686.00" width="6.2" height="62.35" fill="#ff686b"/>
<rect x="108.16" y="662.90" width="6.2" height="85.45" fill="#5faaeb"/>
<rect x="114.96" y="667.10" width="6.2" height="81.25" fill="#ff686b"/>
<rect x="128.75" y="689.00" width="6.2" height="59.35" fill="#5faaeb"/>
<rect x="135.55" y="694.30" width="6.2" height="54.05" fill="#ff686b"/>
<rect x="149.34" y="652.80" width="6.2" height="95.55" fill="#5faaeb"/>
<rect x="156.14" y="667.70" width="6.2" height="80.65" fill="#ff686b"/>
<rect x="169.92" y="661.20" width="6.2" height="87.15" fill="#5faaeb"/>
<rect x="176.72" y="665.90" width="6.2" height="82.45" fill="#ff686b"/>
<rect x="190.51" y="677.10" width="6.2" height="71.25" fill="#5faaeb"/>
<rect x="197.31" y="687.60" width="6.2" height="60.75" fill="#ff686b"/>
<rect x="211.10" y="638.20" width="6.2" height="110.15" fill="#5faaeb"/>
<rect x="217.90" y="638.00" width="6.2" height="110.35" fill="#ff686b"/>
<rect x="231.68" y="682.00" width="6.2" height="66.35" fill="#5faaeb"/>
<rect x="238.48" y="676.50" width="6.2" height="71.85" fill="#ff686b"/>
<rect x="252.27" y="678.70" width="6.2" height="69.65" fill="#5faaeb"/>
<rect x="259.07" y="652.70" width="6.2" height="95.65" fill="#ff686b"/>
<rect x="272.86" y="698.10" width="6.2" height="50.25" fill="#5faaeb"/>
<rect x="279.66" y="687.80" width="6.2" height="60.55" fill="#ff686b"/>
<rect x="293.44" y="687.20" width="6.2" height="61.15" fill="#5faaeb"/>
<rect x="300.24" y="681.20" width="6.2" height="67.15" fill="#ff686b"/>
<rect x="314.03" y="699.50" width="6.2" height="48.85" fill="#5faaeb"/>
<rect x="320.83" y="673.80" width="6.2" height="74.55" fill="#ff686b"/>
<rect x="334.62" y="684.10" width="6.2" height="64.25" fill="#5faaeb"/>
<rect x="341.42" y="691.40" width="6.2" height="56.95" fill="#ff686b"/>
<rect x="362.00" y="704.00" width="6.2" height="44.35" fill="#ff686b"/>
<rect x="375.79" y="673.60" width="6.2" height="74.75" fill="#5faaeb"/>
<rect x="382.59" y="671.90" width="6.2" height="76.45" fill="#ff686b"/>
<rect x="396.38" y="684.10" width="6.2" height="64.25" fill="#5faaeb"/>
<rect x="403.18" y="677.40" width="6.2" height="70.95" fill="#ff686b"/>
<rect x="416.97" y="689.00" width="6.2" height="59.35" fill="#5faaeb"/>
<rect x="423.77" y="669.70" width="6.2" height="78.65" fill="#ff686b"/>
<rect x="437.55" y="729.20" width="6.2" height="19.15" fill="#5faaeb"/>
<rect x="444.35" y="728.10" width="6.2" height="20.25" fill="#ff686b"/>
<rect x="458.14" y="716.70" width="6.2" height="31.65" fill="#5faaeb"/>
<rect x="464.94" y="726.30" width="6.2" height="22.05" fill="#ff686b"/>
<rect x="478.73" y="659.70" width="6.2" height="88.65" fill="#5faaeb"/>
<rect x="485.53" y="639.80" width="6.2" height="108.55" fill="#ff686b"/>
<rect x="499.31" y="701.00" width="6.2" height="47.35" fill="#5faaeb"/>
<rect x="506.11" y="696.80" width="6.2" height="51.55" fill="#ff686b"/>
<rect x="519.90" y="699.20" width="6.2" height="49.15" fill="#5faaeb"/>
<rect x="526.70" y="705.70" width="6.2" height="42.65" fill="#ff686b"/>
<rect x="540.49" y="684.10" width="6.2" height="64.25" fill="#5faaeb"/>
<rect x="547.29" y="656.10" width="6.2" height="92.25" fill="#ff686b"/>
<rect x="561.07" y="704.60" width="6.2" height="43.75" fill="#5faaeb"/>
<rect x="567.87" y="703.70" width="6.2" height="44.65" fill="#ff686b"/>
<rect x="581.66" y="685.80" width="6.2" height="62.55" fill="#5faaeb"/>
<rect x="588.46" y="686.80" width="6.2" height="61.55" fill="#ff686b"/>
<rect x="602.25" y="691.90" width="6.2" height="56.45" fill="#5faaeb"/>
<rect x="609.05" y="694.80" width="6.2" height="53.55" fill="#ff686b"/>
<rect x="622.84" y="699.50" width="6.2" height="48.85" fill="#5faaeb"/>
<rect x="629.64" y="704.40" width="6.2" height="43.95" fill="#ff686b"/>
<rect x="643.42" y="682.90" width="6.2" height="65.45" fill="#5faaeb"/>
<rect x="650.22" y="663.90" width="6.2" height="84.45" fill="#ff686b"/>
<rect x="670.81" y="676.00" width="6.2" height="72.35" fill="#ff686b"/>
<line x1="49.50" y1="678.80" x2="49.50" y2="692.40" stroke="#333" stroke-width="1"/>
<rect x="47.75" y="678.22" width="3.5" height="1.15" fill="#333"/>
<rect x="47.75" y="691.82" width="3.5" height="1.15" fill="#333"/>
<line x1="56.30" y1="674.50" x2="56.30" y2="690.60" stroke="#333" stroke-width="1"/>
<rect x="54.55" y="673.92" width="3.5" height="1.15" fill="#333"/>
<rect x="54.55" y="690.02" width="3.5" height="1.15" fill="#333"/>
<line x1="70.09" y1="696.50" x2="70.09" y2="709.70" stroke="#333" stroke-width="1"/>
<rect x="68.34" y="695.92" width="3.5" height="1.15" fill="#333"/>
<rect x="68.34" y="709.12" width="3.5" height="1.15" fill="#333"/>
<line x1="76.89" y1="692.80" x2="76.89" y2="704.60" stroke="#333" stroke-width="1"/>
<rect x="75.14" y="692.22" width="3.5" height="1.15" fill="#333"/>
<rect x="75.14" y="704.02" width="3.5" height="1.15" fill="#333"/>
<line x1="90.67" y1="669.50" x2="90.67" y2="697.50" stroke="#333" stroke-width="1"/>
<rect x="88.92" y="668.92" width="3.5" height="1.15" fill="#333"/>
<rect x="88.92" y="696.92" width="3.5" height="1.15" fill="#333"/>
<line x1="97.47" y1="675.20" x2="97.47" y2="697.30" stroke="#333" stroke-width="1"/>
<rect x="95.72" y="674.62" width="3.5" height="1.15" fill="#333"/>
<rect x="95.72" y="696.72" width="3.5" height="1.15" fill="#333"/>
<line x1="111.26" y1="643.40" x2="111.26" y2="682.30" stroke="#333" stroke-width="1"/>
<rect x="109.51" y="642.82" width="3.5" height="1.15" fill="#333"/>
<rect x="109.51" y="681.72" width="3.5" height="1.15" fill="#333"/>
<line x1="118.06" y1="651.40" x2="118.06" y2="680.30" stroke="#333" stroke-width="1"/>
<rect x="116.31" y="650.82" width="3.5" height="1.15" fill="#333"/>
<rect x="116.31" y="679.72" width="3.5" height="1.15" fill="#333"/>
<line x1="131.85" y1="679.00" x2="131.85" y2="703.40" stroke="#333" stroke-width="1"/>
<rect x="130.10" y="678.42" width="3.5" height="1.15" fill="#333"/>
<rect x="130.10" y="702.82" width="3.5" height="1.15" fill="#333"/>
<line x1="138.65" y1="688.80" x2="138.65" y2="699.20" stroke="#333" stroke-width="1"/>
<rect x="136.90" y="688.22" width="3.5" height="1.15" fill="#333"/>
<rect x="136.90" y="698.62" width="3.5" height="1.15" fill="#333"/>
<line x1="152.44" y1="638.50" x2="152.44" y2="662.60" stroke="#333" stroke-width="1"/>
<rect x="150.69" y="637.92" width="3.5" height="1.15" fill="#333"/>
<rect x="150.69" y="662.02" width="3.5" height="1.15" fill="#333"/>
<line x1="159.24" y1="660.40" x2="159.24" y2="672.40" stroke="#333" stroke-width="1"/>
<rect x="157.49" y="659.82" width="3.5" height="1.15" fill="#333"/>
<rect x="157.49" y="671.82" width="3.5" height="1.15" fill="#333"/>
<line x1="173.02" y1="649.20" x2="173.02" y2="669.30" stroke="#333" stroke-width="1"/>
<rect x="171.27" y="648.62" width="3.5" height="1.15" fill="#333"/>
<rect x="171.27" y="668.72" width="3.5" height="1.15" fill="#333"/>
<line x1="179.82" y1="656.60" x2="179.82" y2="672.90" stroke="#333" stroke-width="1"/>
<rect x="178.07" y="656.02" width="3.5" height="1.15" fill="#333"/>
<rect x="178.07" y="672.32" width="3.5" height="1.15" fill="#333"/>
<line x1="193.61" y1="666.20" x2="193.61" y2="684.10" stroke="#333" stroke-width="1"/>
<rect x="191.86" y="665.62" width="3.5" height="1.15" fill="#333"/>
<rect x="191.86" y="683.52" width="3.5" height="1.15" fill="#333"/>
<line x1="200.41" y1="679.20" x2="200.41" y2="693.70" stroke="#333" stroke-width="1"/>
<rect x="198.66" y="678.62" width="3.5" height="1.15" fill="#333"/>
<rect x="198.66" y="693.12" width="3.5" height="1.15" fill="#333"/>
<line x1="214.20" y1="623.20" x2="214.20" y2="650.50" stroke="#333" stroke-width="1"/>
<rect x="212.45" y="622.62" width="3.5" height="1.15" fill="#333"/>
<rect x="212.45" y="649.92" width="3.5" height="1.15" fill="#333"/>
<line x1="221.00" y1="626.40" x2="221.00" y2="650.40" stroke="#333" stroke-width="1"/>
<rect x="219.25" y="625.82" width="3.5" height="1.15" fill="#333"/>
<rect x="219.25" y="649.82" width="3.5" height="1.15" fill="#333"/>
<line x1="234.78" y1="668.40" x2="234.78" y2="694.10" stroke="#333" stroke-width="1"/>
<rect x="233.03" y="667.82" width="3.5" height="1.15" fill="#333"/>
<rect x="233.03" y="693.52" width="3.5" height="1.15" fill="#333"/>
<line x1="241.58" y1="659.90" x2="241.58" y2="691.40" stroke="#333" stroke-width="1"/>
<rect x="239.83" y="659.32" width="3.5" height="1.15" fill="#333"/>
<rect x="239.83" y="690.82" width="3.5" height="1.15" fill="#333"/>
<line x1="255.37" y1="660.60" x2="255.37" y2="692.30" stroke="#333" stroke-width="1"/>
<rect x="253.62" y="660.02" width="3.5" height="1.15" fill="#333"/>
<rect x="253.62" y="691.72" width="3.5" height="1.15" fill="#333"/>
<line x1="262.17" y1="640.20" x2="262.17" y2="661.50" stroke="#333" stroke-width="1"/>
<rect x="260.42" y="639.62" width="3.5" height="1.15" fill="#333"/>
<rect x="260.42" y="660.92" width="3.5" height="1.15" fill="#333"/>
<line x1="275.96" y1="691.40" x2="275.96" y2="703.90" stroke="#333" stroke-width="1"/>
<rect x="274.21" y="690.82" width="3.5" height="1.15" fill="#333"/>
<rect x="274.21" y="703.32" width="3.5" height="1.15" fill="#333"/>
<line x1="282.76" y1="680.50" x2="282.76" y2="693.40" stroke="#333" stroke-width="1"/>
<rect x="281.01" y="679.92" width="3.5" height="1.15" fill="#333"/>
<rect x="281.01" y="692.82" width="3.5" height="1.15" fill="#333"/>
<line x1="296.54" y1="680.50" x2="296.54" y2="694.30" stroke="#333" stroke-width="1"/>
<rect x="294.79" y="679.92" width="3.5" height="1.15" fill="#333"/>
<rect x="294.79" y="693.72" width="3.5" height="1.15" fill="#333"/>
<line x1="303.34" y1="673.80" x2="303.34" y2="688.70" stroke="#333" stroke-width="1"/>
<rect x="301.59" y="673.22" width="3.5" height="1.15" fill="#333"/>
<rect x="301.59" y="688.12" width="3.5" height="1.15" fill="#333"/>
<line x1="317.13" y1="692.80" x2="317.13" y2="704.40" stroke="#333" stroke-width="1"/>
<rect x="315.38" y="692.22" width="3.5" height="1.15" fill="#333"/>
<rect x="315.38" y="703.82" width="3.5" height="1.15" fill="#333"/>
<line x1="323.93" y1="665.10" x2="323.93" y2="683.60" stroke="#333" stroke-width="1"/>
<rect x="322.18" y="664.52" width="3.5" height="1.15" fill="#333"/>
<rect x="322.18" y="683.02" width="3.5" height="1.15" fill="#333"/>
<line x1="337.72" y1="679.60" x2="337.72" y2="688.70" stroke="#333" stroke-width="1"/>
<rect x="335.97" y="679.02" width="3.5" height="1.15" fill="#333"/>
<rect x="335.97" y="688.12" width="3.5" height="1.15" fill="#333"/>
<line x1="344.52" y1="687.20" x2="344.52" y2="694.10" stroke="#333" stroke-width="1"/>
<rect x="342.77" y="686.62" width="3.5" height="1.15" fill="#333"/>
<rect x="342.77" y="693.52" width="3.5" height="1.15" fill="#333"/>
<line x1="365.11" y1="689.90" x2="365.11" y2="711.30" stroke="#333" stroke-width="1"/>
<rect x="363.36" y="689.32" width="3.5" height="1.15" fill="#333"/>
<rect x="363.36" y="710.72" width="3.5" height="1.15" fill="#333"/>
<line x1="378.89" y1="660.80" x2="378.89" y2="686.50" stroke="#333" stroke-width="1"/>
<rect x="377.14" y="660.22" width="3.5" height="1.15" fill="#333"/>
<rect x="377.14" y="685.92" width="3.5" height="1.15" fill="#333"/>
<line x1="385.69" y1="661.90" x2="385.69" y2="680.20" stroke="#333" stroke-width="1"/>
<rect x="383.94" y="661.32" width="3.5" height="1.15" fill="#333"/>
<rect x="383.94" y="679.62" width="3.5" height="1.15" fill="#333"/>
<line x1="399.48" y1="674.50" x2="399.48" y2="692.30" stroke="#333" stroke-width="1"/>
<rect x="397.73" y="673.92" width="3.5" height="1.15" fill="#333"/>
<rect x="397.73" y="691.72" width="3.5" height="1.15" fill="#333"/>
<line x1="406.28" y1="669.70" x2="406.28" y2="685.40" stroke="#333" stroke-width="1"/>
<rect x="404.53" y="669.12" width="3.5" height="1.15" fill="#333"/>
<rect x="404.53" y="684.82" width="3.5" height="1.15" fill="#333"/>
<line x1="420.07" y1="673.10" x2="420.07" y2="696.30" stroke="#333" stroke-width="1"/>
<rect x="418.32" y="672.52" width="3.5" height="1.15" fill="#333"/>
<rect x="418.32" y="695.72" width="3.5" height="1.15" fill="#333"/>
<line x1="426.87" y1="659.30" x2="426.87" y2="681.40" stroke="#333" stroke-width="1"/>
<rect x="425.12" y="658.72" width="3.5" height="1.15" fill="#333"/>
<rect x="425.12" y="680.82" width="3.5" height="1.15" fill="#333"/>
<line x1="440.65" y1="723.00" x2="440.65" y2="734.20" stroke="#333" stroke-width="1"/>
<rect x="438.90" y="722.42" width="3.5" height="1.15" fill="#333"/>
<rect x="438.90" y="733.62" width="3.5" height="1.15" fill="#333"/>
<line x1="447.45" y1="719.10" x2="447.45" y2="735.70" stroke="#333" stroke-width="1"/>
<rect x="445.70" y="718.52" width="3.5" height="1.15" fill="#333"/>
<rect x="445.70" y="735.12" width="3.5" height="1.15" fill="#333"/>
<line x1="461.24" y1="710.90" x2="461.24" y2="723.80" stroke="#333" stroke-width="1"/>
<rect x="459.49" y="710.32" width="3.5" height="1.15" fill="#333"/>
<rect x="459.49" y="723.22" width="3.5" height="1.15" fill="#333"/>
<line x1="468.04" y1="717.20" x2="468.04" y2="733.50" stroke="#333" stroke-width="1"/>
<rect x="466.29" y="716.62" width="3.5" height="1.15" fill="#333"/>
<rect x="466.29" y="732.92" width="3.5" height="1.15" fill="#333"/>
<line x1="481.83" y1="638.40" x2="481.83" y2="678.20" stroke="#333" stroke-width="1"/>
<rect x="480.08" y="637.82" width="3.5" height="1.15" fill="#333"/>
<rect x="480.08" y="677.62" width="3.5" height="1.15" fill="#333"/>
<line x1="488.63" y1="620.40" x2="488.63" y2="664.20" stroke="#333" stroke-width="1"/>
<rect x="486.88" y="619.82" width="3.5" height="1.15" fill="#333"/>
<rect x="486.88" y="663.62" width="3.5" height="1.15" fill="#333"/>
<line x1="502.41" y1="695.20" x2="502.41" y2="709.10" stroke="#333" stroke-width="1"/>
<rect x="500.66" y="694.62" width="3.5" height="1.15" fill="#333"/>
<rect x="500.66" y="708.52" width="3.5" height="1.15" fill="#333"/>
<line x1="509.21" y1="691.00" x2="509.21" y2="701.30" stroke="#333" stroke-width="1"/>
<rect x="507.46" y="690.42" width="3.5" height="1.15" fill="#333"/>
<rect x="507.46" y="700.72" width="3.5" height="1.15" fill="#333"/>
<line x1="523.00" y1="695.50" x2="523.00" y2="702.40" stroke="#333" stroke-width="1"/>
<rect x="521.25" y="694.92" width="3.5" height="1.15" fill="#333"/>
<rect x="521.25" y="701.82" width="3.5" height="1.15" fill="#333"/>
<line x1="529.80" y1="695.30" x2="529.80" y2="710.40" stroke="#333" stroke-width="1"/>
<rect x="528.05" y="694.72" width="3.5" height="1.15" fill="#333"/>
<rect x="528.05" y="709.82" width="3.5" height="1.15" fill="#333"/>
<line x1="543.59" y1="670.60" x2="543.59" y2="694.10" stroke="#333" stroke-width="1"/>
<rect x="541.84" y="670.02" width="3.5" height="1.15" fill="#333"/>
<rect x="541.84" y="693.52" width="3.5" height="1.15" fill="#333"/>
<line x1="550.39" y1="648.50" x2="550.39" y2="664.20" stroke="#333" stroke-width="1"/>
<rect x="548.64" y="647.92" width="3.5" height="1.15" fill="#333"/>
<rect x="548.64" y="663.62" width="3.5" height="1.15" fill="#333"/>
<line x1="564.17" y1="700.40" x2="564.17" y2="709.10" stroke="#333" stroke-width="1"/>
<rect x="562.42" y="699.82" width="3.5" height="1.15" fill="#333"/>
<rect x="562.42" y="708.52" width="3.5" height="1.15" fill="#333"/>
<line x1="570.97" y1="698.80" x2="570.97" y2="709.10" stroke="#333" stroke-width="1"/>
<rect x="569.22" y="698.22" width="3.5" height="1.15" fill="#333"/>
<rect x="569.22" y="708.52" width="3.5" height="1.15" fill="#333"/>
<line x1="584.76" y1="678.30" x2="584.76" y2="691.40" stroke="#333" stroke-width="1"/>
<rect x="583.01" y="677.72" width="3.5" height="1.15" fill="#333"/>
<rect x="583.01" y="690.82" width="3.5" height="1.15" fill="#333"/>
<line x1="591.56" y1="681.40" x2="591.56" y2="691.40" stroke="#333" stroke-width="1"/>
<rect x="589.81" y="680.82" width="3.5" height="1.15" fill="#333"/>
<rect x="589.81" y="690.82" width="3.5" height="1.15" fill="#333"/>
<line x1="605.35" y1="688.30" x2="605.35" y2="694.40" stroke="#333" stroke-width="1"/>
<rect x="603.60" y="687.72" width="3.5" height="1.15" fill="#333"/>
<rect x="603.60" y="693.82" width="3.5" height="1.15" fill="#333"/>
<line x1="612.15" y1="689.70" x2="612.15" y2="698.20" stroke="#333" stroke-width="1"/>
<rect x="610.40" y="689.12" width="3.5" height="1.15" fill="#333"/>
<rect x="610.40" y="697.62" width="3.5" height="1.15" fill="#333"/>
<line x1="625.94" y1="691.40" x2="625.94" y2="707.30" stroke="#333" stroke-width="1"/>
<rect x="624.19" y="690.82" width="3.5" height="1.15" fill="#333"/>
<rect x="624.19" y="706.72" width="3.5" height="1.15" fill="#333"/>
<line x1="632.74" y1="699.10" x2="632.74" y2="710.40" stroke="#333" stroke-width="1"/>
<rect x="630.99" y="698.52" width="3.5" height="1.15" fill="#333"/>
<rect x="630.99" y="709.82" width="3.5" height="1.15" fill="#333"/>
<line x1="646.52" y1="674.20" x2="646.52" y2="693.50" stroke="#333" stroke-width="1"/>
<rect x="644.77" y="673.62" width="3.5" height="1.15" fill="#333"/>
<rect x="644.77" y="692.92" width="3.5" height="1.15" fill="#333"/>
<line x1="653.32" y1="655.50" x2="653.32" y2="672.00" stroke="#333" stroke-width="1"/>
<rect x="651.57" y="654.92" width="3.5" height="1.15" fill="#333"/>
<rect x="651.57" y="671.42" width="3.5" height="1.15" fill="#333"/>
<line x1="673.91" y1="670.60" x2="673.91" y2="680.90" stroke="#333" stroke-width="1"/>
<rect x="672.16" y="670.02" width="3.5" height="1.15" fill="#333"/>
<rect x="672.16" y="680.32" width="3.5" height="1.15" fill="#333"/>
<path d="M39.75 748.35 V577.2 H683.9 V748.35" fill="none" stroke="#4a4a4a" stroke-width="1.6"/><line x1="38.95" y1="748.35" x2="684.6999999999999" y2="748.35" stroke="#333" stroke-width="1.3"/>
<g font-size="8.5" fill="#222"><text x="34.3" y="751.30" text-anchor="end">0.0</text>
<text x="34.3" y="722.78" text-anchor="end">0.5</text>
<text x="34.3" y="694.26" text-anchor="end">1.0</text>
<text x="34.3" y="665.74" text-anchor="end">1.5</text>
<text x="34.3" y="637.22" text-anchor="end">2.0</text>
<text x="34.3" y="608.70" text-anchor="end">2.5</text>
<text x="34.3" y="580.18" text-anchor="end">3.0</text></g>
<g font-size="8.95" fill="#111"><text transform="translate(54.65,788.30) rotate(-90)" text-anchor="middle" font-weight="bold" font-size="8.45" fill="#333">CMIP6 MME</text>
<text transform="translate(76.59,791.60) rotate(-90)" text-anchor="middle">ACCESS-CM2</text>
<text transform="translate(97.17,791.60) rotate(-90)" text-anchor="middle">ACCESS-ESM1-5</text>
<text transform="translate(117.76,791.60) rotate(-90)" text-anchor="middle">AWI-CM-1-1-MR</text>
<text transform="translate(138.35,791.60) rotate(-90)" text-anchor="middle">BCC-CSM2-MR</text>
<text transform="translate(158.94,791.60) rotate(-90)" text-anchor="middle">CESM2-WACCM</text>
<text transform="translate(179.52,791.60) rotate(-90)" text-anchor="middle">CESM2</text>
<text transform="translate(200.11,791.60) rotate(-90)" text-anchor="middle">CIESM</text>
<text transform="translate(220.70,791.60) rotate(-90)" text-anchor="middle">CMCC-CM2-SR5</text>
<text transform="translate(241.28,791.60) rotate(-90)" text-anchor="middle">CanESM5</text>
<text transform="translate(261.87,791.60) rotate(-90)" text-anchor="middle">E3SM-1-1</text>
<text transform="translate(282.46,791.60) rotate(-90)" text-anchor="middle">EC-Earth3-Veg-LR</text>
<text transform="translate(303.04,791.60) rotate(-90)" text-anchor="middle">EC-Earth3-Veg</text>
<text transform="translate(323.63,791.60) rotate(-90)" text-anchor="middle">EC-Earth3</text>
<text transform="translate(344.22,791.60) rotate(-90)" text-anchor="middle">FGOALS-f3-L</text>
<text transform="translate(364.81,791.60) rotate(-90)" text-anchor="middle">FGOALS-g3</text>
<text transform="translate(385.39,791.60) rotate(-90)" text-anchor="middle">FIO-ESM-2-0</text>
<text transform="translate(405.98,791.60) rotate(-90)" text-anchor="middle">GFDL-CM4</text>
<text transform="translate(426.57,791.60) rotate(-90)" text-anchor="middle">GFDL-ESM4</text>
<text transform="translate(447.15,791.60) rotate(-90)" text-anchor="middle">INM-CM4-8</text>
<text transform="translate(467.74,791.60) rotate(-90)" text-anchor="middle">INM-CM5-0</text>
<text transform="translate(488.33,791.60) rotate(-90)" text-anchor="middle">IPSL-CM6A-LR</text>
<text transform="translate(508.91,791.60) rotate(-90)" text-anchor="middle">KACE-1-0-G</text>
<text transform="translate(529.50,791.60) rotate(-90)" text-anchor="middle">KIOST-ESM</text>
<text transform="translate(550.09,791.60) rotate(-90)" text-anchor="middle">MIROC6</text>
<text transform="translate(570.67,791.60) rotate(-90)" text-anchor="middle">MPI-ESM1-2-HR</text>
<text transform="translate(591.26,791.60) rotate(-90)" text-anchor="middle">MPI-ESM1-2-LR</text>
<text transform="translate(611.85,791.60) rotate(-90)" text-anchor="middle">MRI-ESM2-0</text>
<text transform="translate(632.44,791.60) rotate(-90)" text-anchor="middle">NESM3</text>
<text transform="translate(653.02,791.60) rotate(-90)" text-anchor="middle">NorESM2-LM</text>
<text transform="translate(673.61,791.60) rotate(-90)" text-anchor="middle">NorESM2-MM</text></g>
<text x="56.2" y="598.5" fill="#4d9fe6" font-size="10.6">20<tspan font-size="6.4" dx="0.4" dy="-5.0">th</tspan><tspan dy="5.0"> century</tspan></text><text x="56.2" y="609.6" fill="#ff5a60" font-size="10.6">21<tspan font-size="6.4" dx="0.3" dy="-5.0">st</tspan><tspan dy="5.0"> century</tspan></text>
<text x="-0.2" y="565.7" font-size="22.5" font-weight="bold" fill="#000">c</text>
<text x="39.2" y="571" font-size="11.75" fill="#111">NINO4 (5S-5N)</text>
<text transform="translate(15.8,655.2) rotate(-90)" text-anchor="middle" font-size="10.2" fill="#111" textLength="45.6" lengthAdjust="spacingAndGlyphs">NINO4<tspan dx="1.0">[</tspan><tspan font-size="5" dy="-3.7">o</tspan><tspan dy="3.7">C]</tspan></text>
</svg>
</body></html>
